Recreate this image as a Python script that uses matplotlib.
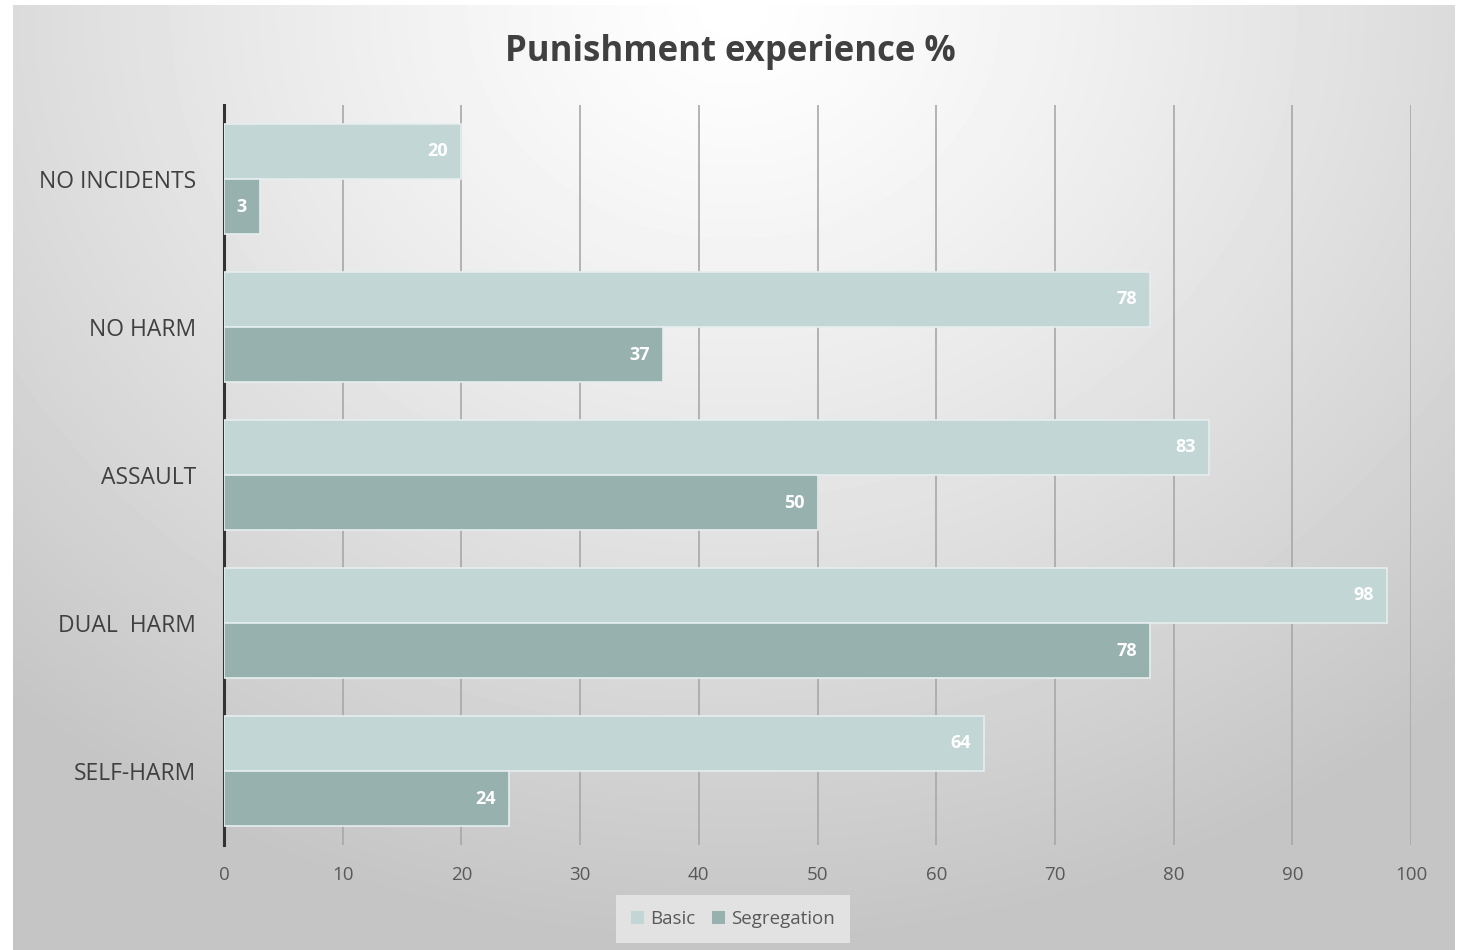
import numpy as np
import matplotlib.pyplot as plt
from matplotlib.patches import Patch

categories = ['NO INCIDENTS', 'NO HARM', 'ASSAULT', 'DUAL  HARM', 'SELF-HARM']
basic = [20, 78, 83, 98, 64]
segregation = [3, 37, 50, 78, 24]
series_names = ['Basic', 'Segregation']

c_basic = '#c2d6d5'
c_seg = '#97b1af'
text_col = '#404040'

plt.rcParams['font.family'] = ['Open Sans', 'DejaVu Sans']

fig = plt.figure(figsize=(14.61, 9.5), dpi=100)
fig.patch.set_facecolor('white')

# radial gradient background, white at top centre fading to grey
bg = fig.add_axes([13 / 1461, 0, 1442 / 1461, 945 / 950], zorder=0)
yy, xx = np.mgrid[0:1:300j, 0:1:450j]
r = np.sqrt(((xx - 0.5) / 0.75) ** 2 + (yy / 1.0) ** 2)
r = np.clip(r, 0, 1)
shade = 1.0 - 0.23 * r ** 1.2
bg.imshow(shade, cmap='gray', vmin=0, vmax=1, aspect='auto',
          extent=[0, 1, 1, 0], interpolation='bicubic')
bg.set_axis_off()

ax = fig.add_axes([224 / 1461, 1 - 845 / 950, (1411 - 224) / 1461, (845 - 105) / 950], zorder=1)
ax.patch.set_alpha(0)

y = np.arange(len(categories))
h = 0.373
b1 = ax.barh(y - h / 2, basic, height=h, color=c_basic, edgecolor='#e6eeee', linewidth=1.2, zorder=3)
b2 = ax.barh(y + h / 2, segregation, height=h, color=c_seg, edgecolor='#e6eeee', linewidth=1.2, zorder=3)

for bars in (b1, b2):
    for bar in bars:
        w = bar.get_width()
        ax.text(w - 1.1, bar.get_y() + bar.get_height() / 2, f'{w:g}',
                ha='right', va='center', color='white', fontsize=13,
                fontweight='bold', zorder=4)

ax.set_xlim(0, 100)
ax.set_ylim(4.5, -0.5)
ax.set_xticks(np.arange(0, 101, 10))
ax.set_yticks(y)
ax.set_yticklabels(categories, fontsize=16.5, color=text_col)
ax.tick_params(axis='y', length=0, pad=20)
ax.tick_params(axis='x', length=0, pad=15, labelsize=13.5, labelcolor='#595959')
ax.xaxis.grid(True, color='#a8a8a8', linewidth=1.2, zorder=1)
ax.set_axisbelow(True)
for s in ['top', 'right', 'bottom']:
    ax.spines[s].set_visible(False)
ax.spines['left'].set_color('#333333')
ax.spines['left'].set_linewidth(2.2)

fig.text(0.5, 1 - 52 / 950, 'Punishment experience %', ha='center', va='center',
         fontsize=25, fontweight='bold', color=text_col)

handles = [Patch(facecolor=c_basic, edgecolor='none'), Patch(facecolor=c_seg, edgecolor='none')]
leg = fig.legend(handles, series_names, loc='center', bbox_to_anchor=(733 / 1461, 1 - 919 / 950),
                 ncol=2, frameon=True, fontsize=13.5, handlelength=0.7, handleheight=0.7,
                 handletextpad=0.3, columnspacing=0.9, borderpad=0.6)
leg.get_frame().set_facecolor('#e2e2e2')
leg.get_frame().set_edgecolor('none')
leg.get_frame().set_alpha(1)
leg.get_frame().set_boxstyle('square', pad=0.2)
for t in leg.get_texts():
    t.set_color('#595959')

fig.savefig('out.png', dpi=100)
